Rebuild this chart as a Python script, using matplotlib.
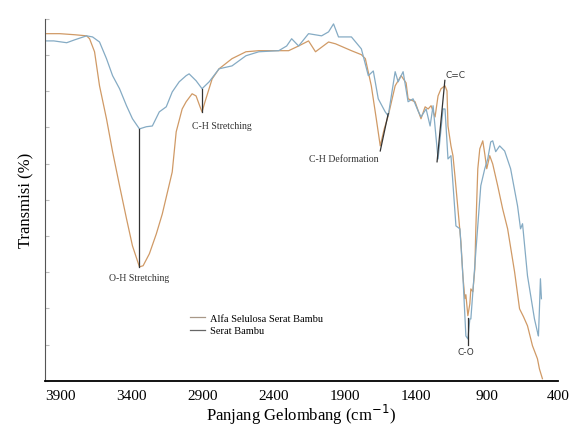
import matplotlib.pyplot as plt

plt.rcParams['font.family'] = ['Liberation Serif', 'DejaVu Serif']

# Alfa Selulosa Serat Bambu (orange)
wn_alfa = [4012, 3907, 3800, 3718, 3697, 3662, 3627, 3578, 3535, 3486, 3437, 3395,
           3346, 3320, 3276, 3227, 3185, 3115, 3087, 3045, 3017, 2975, 2947, 2919,
           2905, 2884, 2834, 2785, 2694, 2596, 2505, 2365, 2295, 2225, 2155, 2106,
           2014, 1965, 1853, 1783, 1755, 1713, 1678, 1650, 1622, 1594, 1545, 1503,
           1468, 1454, 1405, 1363, 1334, 1313, 1292, 1264, 1243, 1222, 1194, 1180,
           1173, 1152, 1138, 1124, 1103, 1082, 1068, 1054, 1047, 1033, 1019, 1012,
           998, 984, 977, 963, 949, 928, 914, 900, 879, 858, 823, 788, 753, 704,
           669, 641, 613, 578, 543, 529, 508]
t_alfa = [95.9, 95.9, 95.6, 95.3, 94.5, 90.9, 81.5, 72.4, 63.3, 53.9, 44.8, 37.3,
          31.5, 31.8, 35.1, 40.6, 46.1, 57.7, 68.8, 75.1, 77.1, 79.3, 78.7, 75.7,
          74.3, 77.1, 83.4, 86.2, 89.0, 90.9, 91.2, 91.2, 91.2, 92.5, 93.9, 90.9,
          93.6, 93.1, 91.2, 90.1, 89.0, 81.5, 72.4, 64.9, 69.6, 73.2, 81.5, 84.3,
          82.3, 77.9, 77.1, 72.4, 75.7, 75.1, 76.0, 72.9, 78.7, 80.7, 81.5, 80.1,
          70.4, 64.9, 62.2, 56.6, 47.5, 38.4, 29.0, 22.7, 23.8, 18.0, 21.3, 25.4,
          24.6, 30.9, 42.0, 58.6, 64.1, 66.3, 62.7, 58.6, 62.2, 59.9, 53.9, 47.5,
          42.0, 30.1, 19.9, 17.7, 15.2, 9.7, 6.1, 3.3, 0.6]

# Serat Bambu (blue)
wn_serat = [4012, 3949, 3858, 3802, 3718, 3676, 3627, 3578, 3535, 3486, 3437, 3395,
            3346, 3297, 3255, 3206, 3157, 3115, 3066, 3017, 2996, 2947, 2905, 2855,
            2785, 2694, 2596, 2505, 2365, 2309, 2274, 2225, 2155, 2063, 2014, 1979,
            1944, 1853, 1783, 1734, 1699, 1664, 1615, 1594, 1545, 1524, 1489, 1454,
            1419, 1384, 1363, 1327, 1299, 1278, 1243, 1208, 1194, 1173, 1152, 1117,
            1089, 1068, 1047, 1033, 1019, 1012, 977, 942, 914, 893, 872, 858, 837,
            809, 774, 732, 683, 662, 648, 613, 564, 543, 536, 529, 522, 515]
t_serat = [93.9, 93.9, 93.4, 94.2, 95.3, 95.0, 93.6, 89.0, 84.3, 80.7, 76.0, 72.4,
           69.6, 70.2, 70.4, 74.3, 75.7, 79.8, 82.6, 84.3, 84.8, 82.9, 80.7, 82.6,
           86.2, 87.0, 89.8, 90.9, 91.2, 92.5, 94.5, 92.5, 95.9, 95.3, 96.4, 98.6,
           95.0, 95.0, 91.7, 84.3, 85.6, 77.9, 74.3, 73.2, 85.4, 82.6, 85.4, 77.1,
           77.9, 74.6, 72.9, 75.1, 70.4, 76.0, 61.3, 75.1, 75.1, 61.3, 62.2, 42.8,
           42.0, 29.0, 12.4, 11.6, 17.1, 17.1, 35.6, 53.9, 58.6, 61.3, 66.0, 66.3,
           63.3, 64.9, 63.5, 58.6, 48.3, 42.0, 43.4, 29.0, 17.1, 13.5, 12.4, 19.9,
           28.2, 22.7]

x_ticks = [3900, 3400, 2900, 2400, 1900, 1400, 900, 400]

fig = plt.figure(figsize=(5.75, 4.31), dpi=100)
ax = fig.add_axes([0.078, 0.114, 0.892, 0.840])

ax.plot(wn_alfa, t_alfa, color='#d09a66', lw=0.9, label='Alfa Selulosa Serat Bambu')
ax.plot(wn_serat, t_serat, color='#85abc4', lw=0.9, label='Serat Bambu')

# annotation lines and labels
ax.plot([3346, 3346], [69.6, 31.5], color='#333333', lw=0.9)
ax.text(3346, 28.5, 'O-H Stretching', fontsize=7, ha='center', va='center', color='#333333')
ax.plot([2905, 2905], [80.7, 74.3], color='#333333', lw=0.9)
ax.text(2975, 70.5, 'C-H Stretching', fontsize=7, ha='left', va='center', color='#333333')
ax.plot([1650, 1594], [63.5, 73.8], color='#333333', lw=0.9)
ax.text(1665, 61.5, 'C-H Deformation', fontsize=7, ha='right', va='center', color='#333333')
ax.plot([1250, 1195], [60.5, 83.0], color='#333333', lw=0.9)
ax.text(1190, 84.5, 'C=C', fontsize=6.5, ha='left', va='center', color='#333333',
        family='DejaVu Sans')
ax.plot([1033, 1033], [17.5, 10.0], color='#333333', lw=0.9)
ax.text(1050, 8.0, 'C-O', fontsize=6.5, ha='center', va='center', color='#333333',
        family='DejaVu Sans')

leg = ax.legend(loc='lower left', bbox_to_anchor=(0.265, 0.10), frameon=False,
                fontsize=7.5, handlelength=1.4, handletextpad=0.5, labelspacing=0.3)
leg.get_lines()[0].set_color('#a89888')
leg.get_lines()[1].set_color('#666666')

ax.set_xlim(4012, 416)
ax.set_ylim(0, 100)
ax.set_xticks(x_ticks)
ax.set_xticklabels([str(v) for v in x_ticks], fontsize=11)
ax.set_yticks(range(0, 101, 10))
ax.set_yticklabels([])
ax.tick_params(axis='y', direction='in', length=3, color='#bbbbbb')
ax.tick_params(axis='x', length=0, pad=6)

ax.spines['top'].set_visible(False)
ax.spines['right'].set_visible(False)
ax.spines['left'].set_color('#555555')
ax.spines['bottom'].set_linewidth(1.3)

ax.set_ylabel('Transmisi (%)', fontsize=12)
ax.set_xlabel('Panjang Gelombang (cm$^{-1}$)', fontsize=12, labelpad=0)

fig.savefig('out.png', dpi=100)
